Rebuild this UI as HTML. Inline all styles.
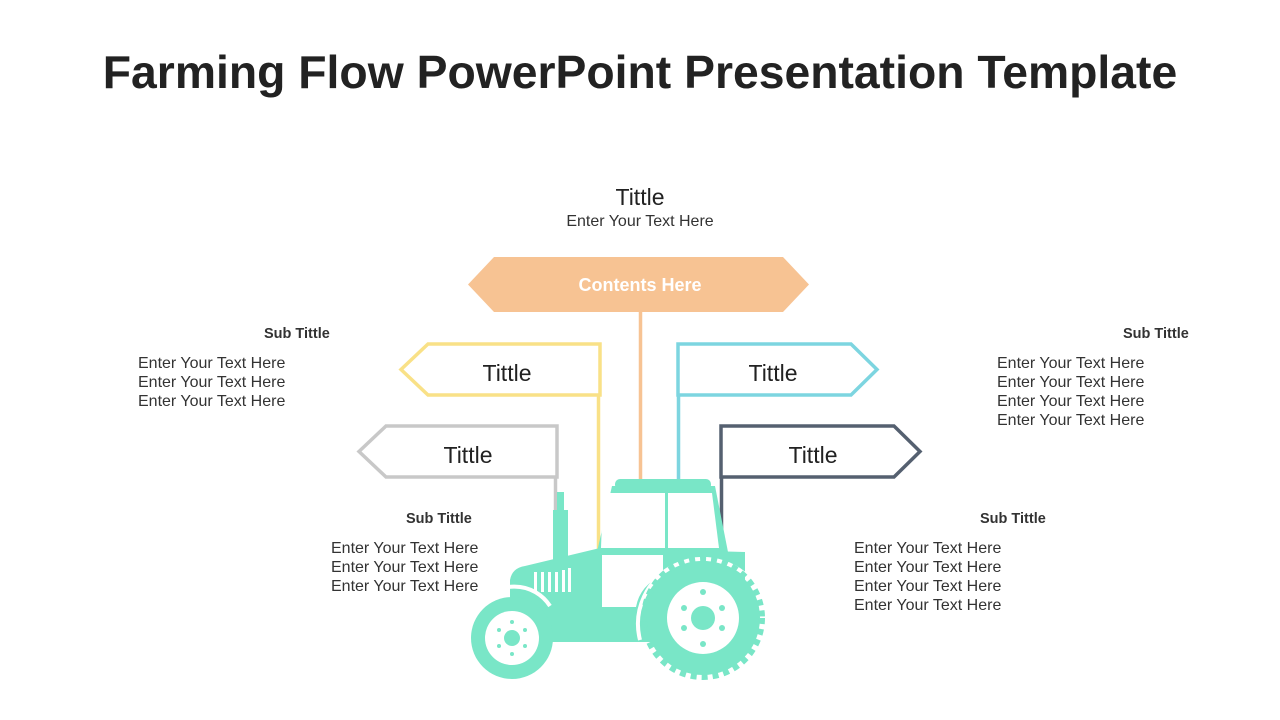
<!DOCTYPE html>
<html><head><meta charset="utf-8"><style>
body{margin:0;width:1280px;height:720px;background:#fff;overflow:hidden;font-family:"Liberation Sans",sans-serif;position:relative}
.t{position:absolute;color:#333;font-size:16px;line-height:19px;white-space:nowrap}
.b{font-weight:bold;font-size:14.5px}
</style></head><body>
<div style="position:absolute;top:45px;left:0;width:1280px;text-align:center;font-size:46.3px;font-weight:bold;color:#222">Farming Flow PowerPoint Presentation Template</div>
<div class="t" style="left:540px;width:200px;text-align:center;top:184px;font-size:23px;line-height:26px;color:#222">Tittle</div>
<div class="t" style="left:540px;width:200px;text-align:center;top:212px">Enter Your Text Here</div>
<div class="t b" style="left:264px;top:325px">Sub Tittle</div>
<div class="t" style="left:138px;top:354px">Enter Your Text Here<br>Enter Your Text Here<br>Enter Your Text Here</div>
<div class="t b" style="left:1123px;top:325px">Sub Tittle</div>
<div class="t" style="left:997px;top:354px">Enter Your Text Here<br>Enter Your Text Here<br>Enter Your Text Here<br>Enter Your Text Here</div>
<div class="t b" style="left:406px;top:510px">Sub Tittle</div>
<div class="t" style="left:331px;top:539px">Enter Your Text Here<br>Enter Your Text Here<br>Enter Your Text Here</div>
<div class="t b" style="left:980px;top:510px">Sub Tittle</div>
<div class="t" style="left:854px;top:539px">Enter Your Text Here<br>Enter Your Text Here<br>Enter Your Text Here<br>Enter Your Text Here</div>
<svg width="1280" height="720" style="position:absolute;left:0;top:0">
<g fill="none" stroke-width="3.5">
<line x1="640.5" y1="310" x2="640.5" y2="482" stroke="#F7C393"/>
<polygon points="428,344 600,344 600,395 428,395 401,369.5" stroke="#F9E187"/>
<line x1="598.5" y1="395" x2="598.5" y2="550" stroke="#F9E187"/>
<polygon points="678,344 851,344 877,369.5 851,395 678,395" stroke="#7DD5E0"/>
<line x1="678.5" y1="395" x2="678.5" y2="480" stroke="#7DD5E0"/>
<polygon points="386,426 557,426 557,477 386,477 359,451.5" stroke="#C8C8C8"/>
<line x1="555.5" y1="477" x2="555.5" y2="512" stroke="#C8C8C8"/>
<polygon points="721,426 894,426 920,451.5 894,477 721,477" stroke="#556070"/>
<line x1="721.5" y1="477" x2="721.5" y2="550" stroke="#556070"/>
</g>
<polygon points="494,257 783,257 809,284.5 783,312 494,312 468,284.5" fill="#F7C393"/>
<text x="640" y="291" text-anchor="middle" font-family="Liberation Sans" font-weight="bold" font-size="18" fill="#fff">Contents Here</text>
<g font-family="Liberation Sans" font-size="23" fill="#222" text-anchor="middle">
<text x="507" y="381">Tittle</text><text x="773" y="381">Tittle</text>
<text x="468" y="463">Tittle</text><text x="813" y="463">Tittle</text>
</g>
<g fill="#79E6C7">
<rect x="615" y="479" width="96" height="11" rx="5"/>
<polygon points="612,486 715,486 728,552 597,552"/>
<rect x="553" y="510" width="15" height="50"/>
<rect x="557" y="492" width="7" height="20"/>
<path d="M510,580 Q512,568 525,566 L600,548 L745,552 L745,642 L510,642 Z"/>
<circle cx="703" cy="618" r="57"/>
<circle cx="512" cy="638" r="41"/>
</g>
<g fill="#fff">
<polygon points="603,493 665,493 665,548 601,548"/>
<polygon points="668,493 712,493 719,548 668,548"/>
<path d="M602,555 L663,555 L663,575 Q640,585 636,607 L602,607 Z"/>
<rect x="534" y="572" width="3" height="20"/><rect x="541" y="572" width="3" height="20"/><rect x="548" y="572" width="3" height="20"/><rect x="555" y="572" width="3" height="20"/><rect x="562" y="570" width="3" height="22"/><rect x="568" y="568" width="3" height="24"/>
</g>
<path d="M640,640 A65,65 0 0 1 755,585" stroke="#fff" stroke-width="4" fill="none"/>
<path d="M478,608 A42,42 0 0 1 550,606" stroke="#fff" stroke-width="4" fill="none"/>
<circle cx="703" cy="618" r="59" fill="none" stroke="#79E6C7" stroke-width="6" stroke-dasharray="6 5"/>
<circle cx="703" cy="618" r="36" fill="#fff"/>
<circle cx="703" cy="618" r="12" fill="#79E6C7"/>
<g fill="#79E6C7"><circle cx="703" cy="592" r="3"/><circle cx="703" cy="644" r="3"/><circle cx="684" cy="608" r="3"/><circle cx="722" cy="608" r="3"/><circle cx="684" cy="628" r="3"/><circle cx="722" cy="628" r="3"/></g>
<circle cx="512" cy="638" r="27" fill="#fff"/>
<circle cx="512" cy="638" r="8" fill="#79E6C7"/>
<g fill="#79E6C7"><circle cx="512" cy="622" r="2"/><circle cx="512" cy="654" r="2"/><circle cx="499" cy="630" r="2"/><circle cx="525" cy="630" r="2"/><circle cx="499" cy="646" r="2"/><circle cx="525" cy="646" r="2"/></g>
</svg>
</body></html>
